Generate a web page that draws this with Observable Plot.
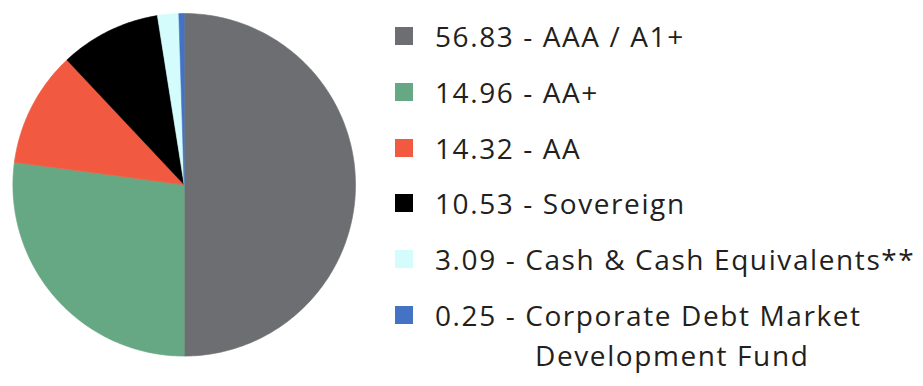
<!DOCTYPE html>
<html><head><meta charset="utf-8">
<script src="https://cdn.jsdelivr.net/npm/d3@7"></script>
<script src="https://cdn.jsdelivr.net/npm/@observablehq/plot@0.6"></script>
<style>
body{margin:0;background:#fff;}
#chart{position:relative;width:923px;height:386px;overflow:hidden;font-family:"Open Sans",sans-serif;color:#231f20;}
#pie{position:absolute;left:0;top:0;}
.row{position:absolute;left:395px;font-size:28px;line-height:40px;white-space:nowrap;letter-spacing:1.6px;}
.sw{position:absolute;left:0;top:11px;width:18px;height:18px;}
.txt{position:absolute;left:40px;top:0;}
.l2{display:block;padding-left:100px;}
</style></head><body><div id="chart"><div id="pie"></div><div id="legend"></div></div>
<script>
const categories = ["AAA / A1+", "AA+", "AA", "Sovereign", "Cash & Cash Equivalents**", "Corporate Debt Market Development Fund"];
const labelValues = ["56.83", "14.96", "14.32", "10.53", "3.09", "0.25"];
// slice shares as drawn in the picture (%)
const sliceShares = [50.0, 27.1, 10.9, 9.5, 2.0, 0.5];
const colors = ["#6d6e71", "#66a884", "#f15a40", "#000000", "#d4fcfd", "#4472c4"];

// layout
const W = 370, H = 386, cx = 183.7, cy = 184.3, R = 171.3;

const data = categories.map((c, i) => ({cat: c, share: sliceShares[i]}));
const arcs = d3.pie().sort(null).value(d => d.share)(data);
const pts = [];
arcs.forEach(p => {
  const n = Math.max(2, Math.ceil((p.endAngle - p.startAngle) / (Math.PI / 180)));
  pts.push({cat: p.data.cat, x: 0, y: 0});
  for (let j = 0; j <= n; j++) {
    const a = p.startAngle + (p.endAngle - p.startAngle) * j / n;
    pts.push({cat: p.data.cat, x: Math.sin(a), y: Math.cos(a)});
  }
  pts.push({cat: p.data.cat, x: 0, y: 0});
});

const plot = Plot.plot({
  width: W, height: H, margin: 0,
  x: {domain: [-cx / R, (W - cx) / R], axis: null},
  y: {domain: [-(H - cy) / R, cy / R], axis: null},
  color: {domain: categories, range: colors},
  marks: [
    Plot.line(pts, {x: "x", y: "y", z: "cat", fill: "cat", stroke: "cat", strokeWidth: 0.6, curve: "linear"})
  ]
});
document.getElementById("pie").appendChild(plot);

const legend = document.getElementById("legend");
const rowTop = 16, rowStep = 55.8;
categories.forEach((c, i) => {
  const row = document.createElement("div");
  row.className = "row";
  row.style.top = (rowTop + i * rowStep) + "px";
  const sw = document.createElement("div");
  sw.className = "sw";
  sw.style.background = colors[i];
  row.appendChild(sw);
  const t = document.createElement("div");
  t.className = "txt";
  if (i === categories.length - 1) {
    const a = document.createElement("span");
    a.textContent = labelValues[i] + " - Corporate Debt Market";
    const b = document.createElement("span");
    b.className = "l2";
    b.textContent = "Development Fund";
    t.appendChild(a);
    t.appendChild(document.createElement("br"));
    t.appendChild(b);
  } else {
    t.textContent = labelValues[i] + " - " + c;
  }
  row.appendChild(t);
  legend.appendChild(row);
});
</script></body></html>
